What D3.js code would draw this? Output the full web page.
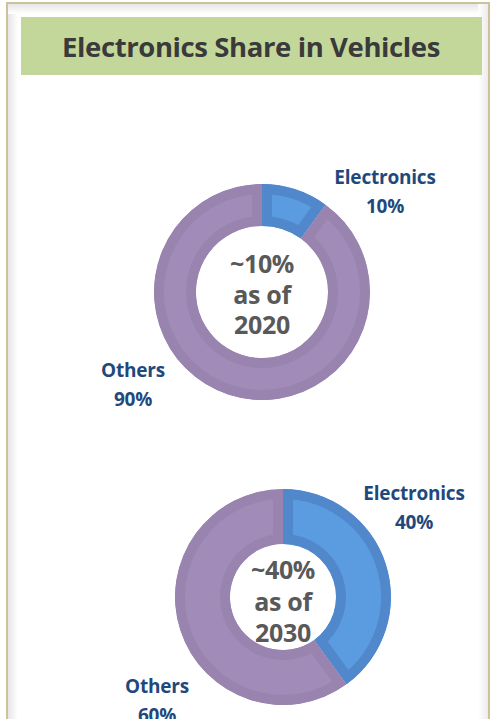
<!DOCTYPE html>
<html><head><meta charset="utf-8">
<script src="https://cdn.jsdelivr.net/npm/d3@7"></script>
<style>html,body{margin:0;padding:0;background:#fff;}svg{display:block;}</style>
</head><body>
<script>
const title = "Electronics Share in Vehicles";
const categories = ["Electronics", "Others"];
const values2020 = [10, 90];
const values2030 = [40, 60];
const centerLabels2020 = ["~10%", "as of", "2020"];
const centerLabels2030 = ["~40%", "as of", "2030"];

const W = 491, H = 719;
const svg = d3.select("body").append("svg").attr("width", W).attr("height", H);
const defs = svg.append("defs");

const grad = defs.append("linearGradient").attr("id","shL").attr("x1",0).attr("x2",1);
grad.append("stop").attr("offset",0).attr("stop-color","#e6e6e6");
grad.append("stop").attr("offset",1).attr("stop-color","#fff");
const gradT = defs.append("linearGradient").attr("id","shT").attr("x1",0).attr("x2",0).attr("y1",0).attr("y2",1);
gradT.append("stop").attr("offset",0).attr("stop-color","#e6e6e6");
gradT.append("stop").attr("offset",1).attr("stop-color","#fff");
const gradR = defs.append("linearGradient").attr("id","shR").attr("x1",1).attr("x2",0);
gradR.append("stop").attr("offset",0).attr("stop-color","#ececec");
gradR.append("stop").attr("offset",1).attr("stop-color","#fff");

svg.append("rect").attr("x",8).attr("y",4).attr("width",480).attr("height",H).attr("fill","#fff");
svg.append("rect").attr("x",8).attr("y",4).attr("width",10).attr("height",H).attr("fill","url(#shL)");
svg.append("rect").attr("x",8).attr("y",4).attr("width",480).attr("height",10).attr("fill","url(#shT)");
svg.append("rect").attr("x",478).attr("y",4).attr("width",10).attr("height",H).attr("fill","url(#shR)");
svg.append("path").attr("d",`M7,${H} V3 H489 V${H}`).attr("fill","none").attr("stroke","#cbc29c").attr("stroke-width",2);

svg.append("rect").attr("x",21).attr("y",17).attr("width",461).attr("height",58).attr("fill","#c4d79b");
svg.append("text").attr("x",251).attr("y",57).attr("text-anchor","middle")
  .attr("font-family","Open Sans, sans-serif").attr("font-weight","bold").attr("font-size",27.5)
  .attr("fill","#3a3a3a").attr("letter-spacing",-0.4).text(title);

const fills = {Electronics:"#5b9be0", Others:"#a18cb9"};
const strokes = {Electronics:"#5088cb", Others:"#9884ae"};
const labelColor = "#1f497d";

function donut(id, values, cx, cy, rOuter, rInner, centerLabels, centerYs, outLabels) {
  const data = categories.map((c,i)=>({cat:c, value:values[i]}));
  const pie = d3.pie().sort(null).value(d=>d.value);
  const arc = d3.arc().innerRadius(rInner).outerRadius(rOuter);
  const g = svg.append("g").attr("transform",`translate(${cx},${cy})`);
  pie(data).forEach((a,i)=>{
    const cid = `clip-${id}-${i}`;
    g.append("clipPath").attr("id",cid).append("path").attr("d",arc(a));
    g.append("path").attr("d",arc(a)).attr("fill",fills[a.data.cat])
      .attr("stroke",strokes[a.data.cat]).attr("stroke-width",20).attr("stroke-linejoin","miter")
      .attr("clip-path",`url(#${cid})`);
  });
  const ct = g.append("g").attr("font-family","Open Sans, sans-serif").attr("font-weight","bold")
    .attr("font-size",25).attr("fill","#595959").attr("text-anchor","middle").attr("letter-spacing",-0.3);
  centerLabels.forEach((t,i)=>ct.append("text").attr("x",0).attr("y",centerYs[i]).text(t));
  outLabels.forEach(l=>{
    const t = svg.append("text").attr("font-family","Open Sans, sans-serif").attr("font-weight","bold")
      .attr("font-size",19).attr("fill",labelColor).attr("text-anchor","middle").attr("letter-spacing",-0.2);
    t.append("tspan").attr("x",l.x).attr("y",l.y).text(l.cat);
    const v = values[categories.indexOf(l.cat)];
    t.append("tspan").attr("x",l.x).attr("y",l.y+29).text(v+"%");
  });
}

donut("a", values2020, 262, 292, 108, 66, centerLabels2020, [-19, 12, 42],
  [{cat:"Electronics", x:385, y:184},{cat:"Others", x:133, y:377}]);
donut("b", values2030, 283, 597, 108, 53, centerLabels2030, [-18, 14, 45],
  [{cat:"Electronics", x:414, y:500},{cat:"Others", x:157, y:693}]);
</script>
</body></html>
